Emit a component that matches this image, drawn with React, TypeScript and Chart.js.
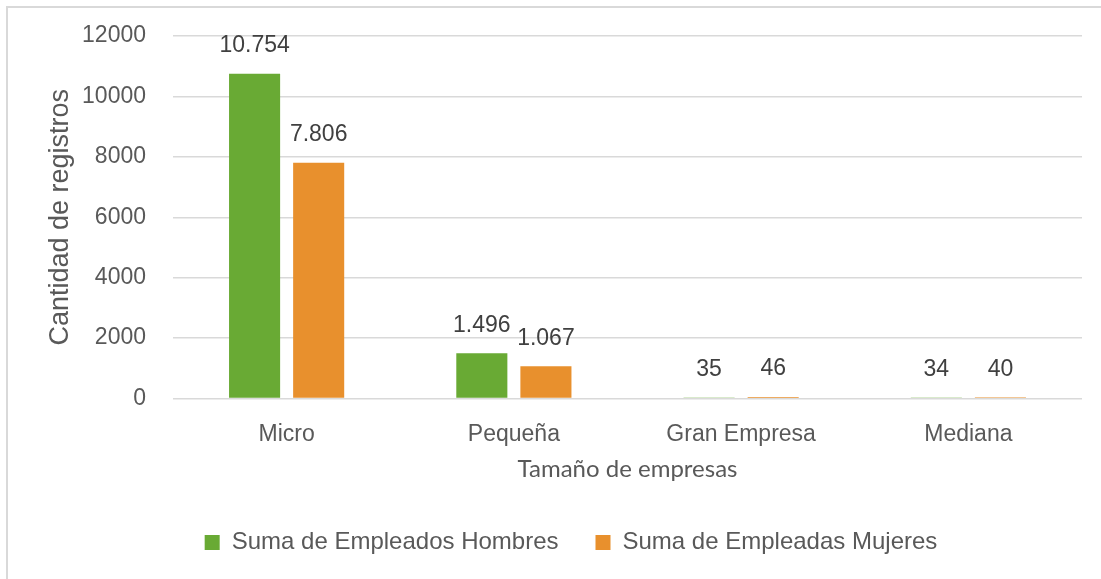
import React, { useEffect, useRef } from "react";
import { Chart, registerables } from "chart.js";

Chart.register(...registerables);

const categories = ["Micro", "Pequeña", "Gran Empresa", "Mediana"];
const hombres = [10754, 1496, 35, 34];
const mujeres = [7806, 1067, 46, 40];
const yTicks = [0, 2000, 4000, 6000, 8000, 10000, 12000];
const seriesNames = ["Suma de Empleados Hombres", "Suma de Empleadas Mujeres"];

const GREEN = "#69aa34";
const ORANGE = "#e8902d";
const TEXT = "#595959";
const ARIAL = "'Liberation Sans', Arial, sans-serif";

const fmt = (v: number) => String(v).replace(/\B(?=(\d{3})+(?!\d))/g, ".");

const framePlugin = {
  id: "frame",
  beforeDraw(chart: any) {
    const { ctx, width, height } = chart;
    ctx.save();
    ctx.fillStyle = "#ffffff";
    ctx.fillRect(0, 0, width, height);
    ctx.strokeStyle = "#d9d9d9";
    ctx.lineWidth = 2;
    ctx.beginPath();
    ctx.moveTo(7, height);
    ctx.lineTo(7, 7);
    ctx.lineTo(width, 7);
    ctx.stroke();
    ctx.restore();
  },
};

const labelPlugin = {
  id: "valueLabels",
  afterDatasetsDraw(chart: any) {
    const { ctx } = chart;
    ctx.save();
    ctx.font = `23px ${ARIAL}`;
    ctx.fillStyle = "#404040";
    ctx.textAlign = "center";
    ctx.textBaseline = "middle";
    chart.data.datasets.forEach((ds: any, i: number) => {
      const meta = chart.getDatasetMeta(i);
      meta.data.forEach((el: any, j: number) => {
        ctx.fillText(fmt(ds.data[j]), el.x, el.y - 28);
      });
    });
    ctx.restore();
  },
};

export default function App() {
  const ref = useRef<HTMLCanvasElement | null>(null);
  useEffect(() => {
    if (!ref.current) return;
    const chart = new Chart(ref.current, {
      type: "bar",
      data: {
        labels: categories,
        datasets: [
          { label: seriesNames[0], data: hombres, backgroundColor: GREEN, borderWidth: 0 },
          { label: seriesNames[1], data: mujeres, backgroundColor: ORANGE, borderWidth: 0 },
        ],
      },
      options: {
        animation: false,
        responsive: false,
        devicePixelRatio: 1,
        layout: { padding: { top: 36, left: 60, right: 19, bottom: 14.5 } },
        datasets: { bar: { categoryPercentage: 0.564, barPercentage: 0.797 } },
        scales: {
          x: {
            grid: { display: false, drawTicks: false },
            border: { display: false },
            ticks: { color: TEXT, font: { family: ARIAL, size: 23 }, padding: 22 },
            title: {
              display: true,
              text: "Tamaño de empresas",
              color: TEXT,
              font: { family: "Lato, 'Open Sans', sans-serif", size: 24, weight: "normal" },
              padding: { top: 0, bottom: 9.5 },
            },
            afterFit(scale: any) {
              scale.height = 95;
            },
          },
          y: {
            min: 0,
            max: 12000,
            afterBuildTicks(scale: any) {
              scale.ticks = yTicks.map((v) => ({ value: v }));
            },
            grid: {
              color: "#d9d9d9",
              lineWidth: 1.5,
              drawTicks: true,
              tickLength: 22,
              tickColor: "rgba(0,0,0,0)",
            },
            border: { display: false },
            ticks: {
              color: TEXT,
              font: { family: ARIAL, size: 23 },
              padding: 5,
              callback: (v: any) => String(v),
            },
            title: {
              display: true,
              text: "Cantidad de registros",
              color: TEXT,
              font: { family: ARIAL, size: 27 },
              padding: { top: -15.2, bottom: 0 },
            },
            afterFit(scale: any) {
              scale.width = 113;
            },
          },
        },
        plugins: {
          legend: {
            position: "bottom",
            labels: {
              color: TEXT,
              font: { family: ARIAL, size: 24 },
              boxWidth: 15,
              boxHeight: 15,
              padding: 37,
            },
          },
          tooltip: { enabled: false },
        },
      },
      plugins: [framePlugin, labelPlugin],
    } as any);
    return () => chart.destroy();
  }, []);
  return (
    <div style={{ position: "fixed", left: 0, top: 0, width: 1101, height: 579, background: "#fff" }}>
      <canvas ref={ref} width={1101} height={579} style={{ display: "block" }} />
    </div>
  );
}
